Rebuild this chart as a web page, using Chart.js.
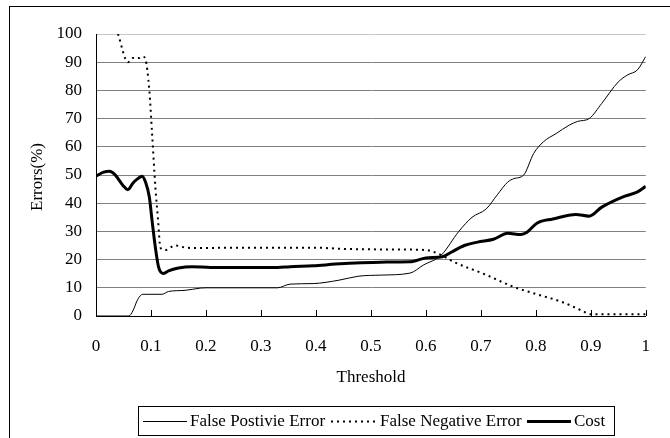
<!DOCTYPE html>
<html>
<head>
<meta charset="utf-8">
<script src="https://cdn.jsdelivr.net/npm/chart.js@4/dist/chart.umd.min.js"></script>
<style>
  html, body { margin: 0; padding: 0; background: #fff; }
  #wrap { position: relative; width: 670px; height: 438px; }
</style>
</head>
<body>
<div id="wrap"><canvas id="errChart" width="670" height="438"></canvas></div>
<script>
// threshold positions and values, per series
const fpX = [0, 0.06, 0.067, 0.076, 0.085, 0.1, 0.12, 0.132, 0.162, 0.19, 0.2, 0.33, 0.353, 0.395, 0.442, 0.477, 0.518, 0.571, 0.595, 0.628, 0.66, 0.684, 0.71, 0.73, 0.749, 0.76, 0.778, 0.796, 0.814, 0.837, 0.861, 0.876, 0.897, 0.92, 0.95, 0.967, 0.985, 1.0];
const fpY = [0, 0, 1.8, 5.9, 7.7, 7.7, 7.7, 8.7, 9.1, 9.9, 10, 10, 11.3, 11.5, 12.7, 14.1, 14.5, 15.2, 18, 21.6, 30, 35, 38, 43, 47.5, 48.7, 50, 57.6, 61.8, 64.7, 67.7, 69, 70, 75.4, 83, 85.5, 87.3, 92];

const fnX = [0.04, 0.058, 0.067, 0.079, 0.085, 0.09, 0.097, 0.102, 0.108, 0.113, 0.117, 0.126, 0.144, 0.162, 0.185, 0.25, 0.4, 0.45, 0.53, 0.6, 0.613, 0.628, 0.653, 0.707, 0.76, 0.802, 0.85, 0.885, 0.9, 1.0];
const fnY = [100, 90, 91.5, 91.5, 92, 91, 80, 64.7, 45.7, 33.8, 24.3, 23.4, 25, 24.3, 24.1, 24.2, 24.2, 23.8, 23.6, 23.4, 22.8, 21.6, 19, 14.8, 10.3, 7.7, 4.8, 1.8, 0.6, 0.6];

const costX = [0, 0.014, 0.025, 0.034, 0.049, 0.058, 0.067, 0.076, 0.084, 0.09, 0.097, 0.102, 0.108, 0.114, 0.123, 0.132, 0.15, 0.174, 0.209, 0.33, 0.353, 0.395, 0.436, 0.483, 0.518, 0.571, 0.6, 0.63, 0.646, 0.67, 0.694, 0.723, 0.749, 0.773, 0.784, 0.802, 0.831, 0.873, 0.897, 0.92, 0.962, 0.985, 1.0];
const costY = [49.6, 51, 51.3, 50.2, 46.3, 44.8, 47.1, 48.7, 49.6, 47.5, 42.2, 33.8, 24.3, 17.2, 15.1, 16, 17, 17.5, 17.2, 17.2, 17.5, 17.8, 18.4, 18.9, 19.1, 19.2, 20.6, 21, 22.6, 25, 26.2, 27.2, 29.3, 28.9, 29.7, 32.9, 34.4, 36, 35.4, 38.6, 42.5, 44, 46];

const seriesNames = ['False Postivie Error', 'False Negative Error', 'Cost'];
const xTickLabels = ['0', '0.1', '0.2', '0.3', '0.4', '0.5', '0.6', '0.7', '0.8', '0.9', '1'];
const yTickLabels = ['0', '10', '20', '30', '40', '50', '60', '70', '80', '90', '100'];

const FONT = '"Liberation Serif", "Times New Roman", serif';
const toPoints = (xs, ys) => xs.map((x, i) => ({ x: x, y: ys[i] }));

// frame, axis titles, tick marks and the boxed legend
const decorations = {
    id: 'decorations',
    afterDraw(chart) {
        const ctx = chart.ctx;
        const area = chart.chartArea;
        const xs = chart.scales.x;
        ctx.save();
        ctx.strokeStyle = '#000';
        ctx.lineWidth = 1;
        ctx.strokeRect(9.5, 6.5, 700, 500);

        // inside tick marks on the x axis
        ctx.beginPath();
        xs.ticks.forEach(t => {
            const px = Math.round(xs.getPixelForValue(t.value)) + 0.5;
            if (t.value === 0) return;
            ctx.moveTo(px, area.bottom);
            ctx.lineTo(px, area.bottom - 6);
        });
        ctx.stroke();

        ctx.fillStyle = '#000';
        ctx.font = '17px ' + FONT;
        ctx.textAlign = 'center';
        ctx.textBaseline = 'middle';
        ctx.fillText('Threshold', 371, 378);

        ctx.save();
        ctx.translate(38, 177);
        ctx.rotate(-Math.PI / 2);
        ctx.fillText('Errors(%)', 0, 0);
        ctx.restore();

        // legend
        ctx.strokeRect(138.5, 406.5, 476, 29);
        const ly = 421.5;
        const ds = chart.data.datasets;
        const items = [
            { x1: 143, x2: 187, tx: 190 },
            { x1: 331, x2: 377, tx: 380 },
            { x1: 527, x2: 571, tx: 574 }
        ];
        ctx.textAlign = 'left';
        items.forEach((it, i) => {
            ctx.save();
            ctx.lineWidth = ds[i].borderWidth;
            ctx.setLineDash(ds[i].borderDash || []);
            ctx.beginPath();
            ctx.moveTo(it.x1, ly);
            ctx.lineTo(it.x2, ly);
            ctx.stroke();
            ctx.restore();
            ctx.fillText(seriesNames[i], it.tx, ly);
        });
        ctx.restore();
    }
};

new Chart(document.getElementById('errChart'), {
    type: 'line',
    data: {
        datasets: [
            {
                label: seriesNames[0],
                data: toPoints(fpX, fpY),
                borderColor: '#000',
                borderWidth: 1,
                pointRadius: 0,
                cubicInterpolationMode: 'monotone'
            },
            {
                label: seriesNames[1],
                data: toPoints(fnX, fnY),
                borderColor: '#000',
                borderWidth: 2,
                borderDash: [2, 4],
                pointRadius: 0,
                cubicInterpolationMode: 'monotone'
            },
            {
                label: seriesNames[2],
                data: toPoints(costX, costY),
                borderColor: '#000',
                borderWidth: 3,
                pointRadius: 0,
                cubicInterpolationMode: 'monotone'
            }
        ]
    },
    options: {
        responsive: false,
        animation: false,
        layout: { padding: { left: 0, right: 11, top: 34, bottom: 0 } },
        plugins: {
            legend: { display: false },
            tooltip: { enabled: false }
        },
        scales: {
            x: {
                type: 'linear',
                min: 0,
                max: 1,
                afterFit: s => { s.height = 122; },
                border: { color: '#000', width: 1 },
                grid: { drawOnChartArea: false, drawTicks: false },
                ticks: {
                    stepSize: 0.1,
                    padding: 20,
                    maxRotation: 0,
                    color: '#000',
                    font: { family: FONT, size: 17 },
                    callback: (v, i) => xTickLabels[i]
                }
            },
            y: {
                min: 0,
                max: 100,
                afterFit: s => { s.width = 96; },
                border: { color: '#000', width: 1 },
                grid: {
                    drawTicks: false,
                    color: c => (c.tick && c.tick.value === 100) ? '#c8c8c8' : '#808080'
                },
                ticks: {
                    stepSize: 10,
                    padding: 14,
                    color: '#000',
                    font: { family: FONT, size: 17 },
                    callback: (v, i) => yTickLabels[i]
                }
            }
        }
    },
    plugins: [decorations]
});
</script>
</body>
</html>
